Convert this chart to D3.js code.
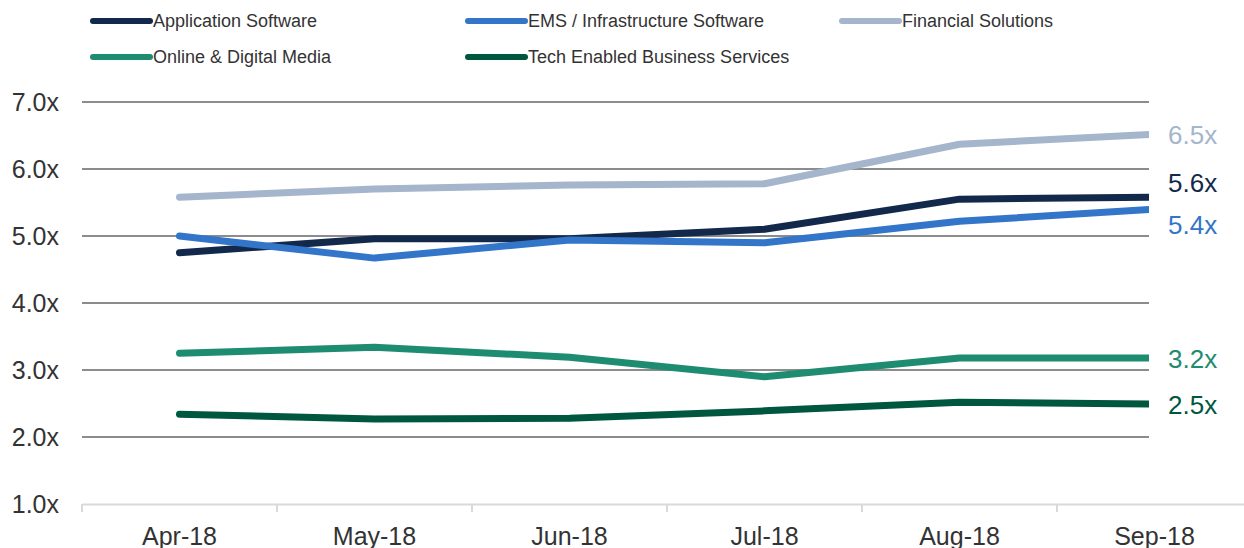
<!DOCTYPE html>
<html lang="en">

<head>
    <meta charset="UTF-8">
    <title>EV / Revenue Multiples</title>
    <style>
        body { margin: 0; background: #fff; }
        text { font-family: "Liberation Sans", Arial, sans-serif; }
    </style>
</head>

<body>
    <svg width="1244" height="548" id="svg"></svg>
    <script src="https://d3js.org/d3.v7.min.js"></script>
    <script>
        // categories / ticks
        const months = ["Apr-18", "May-18", "Jun-18", "Jul-18", "Aug-18", "Sep-18"]
        const yTicks = [1, 2, 3, 4, 5, 6, 7]

        // series names + values
        const seriesNames = ["Application Software", "EMS / Infrastructure Software", "Financial Solutions",
            "Online & Digital Media", "Tech Enabled Business Services"]
        const appSoftware = [4.75, 4.96, 4.96, 5.10, 5.55, 5.58]
        const emsInfra = [5.00, 4.67, 4.94, 4.90, 5.22, 5.40]
        const financial = [5.58, 5.70, 5.76, 5.78, 6.37, 6.52]
        const onlineMedia = [3.25, 3.34, 3.19, 2.90, 3.18, 3.18]
        const techServices = [2.34, 2.27, 2.28, 2.39, 2.52, 2.49]

        const colors = ["#13294b", "#3275c9", "#a5b5cb", "#1e8c70", "#00573f"]
        const allValues = [appSoftware, emsInfra, financial, onlineMedia, techServices]
        const series = seriesNames.map((name, i) => ({ name: name, values: allValues[i], color: colors[i] }))

        const svg = d3.select("svg#svg")
        const padding = { left: 82, top: 102, bottom: 504 }

        const xScale = d3.scaleBand().domain(months).range([padding.left, padding.left + 195 * months.length])
        const yScale = d3.scaleLinear().domain([1, 7]).range([padding.bottom, padding.top])
        const clipRight = 1149

        svg.append("clipPath").attr("id", "plotClip")
            .append("rect").attr("x", 0).attr("y", 0).attr("width", clipRight).attr("height", 548)

        // gridlines
        svg.append("g").attr("class", "grid")
            .selectAll("line").data(yTicks.filter(d => d > 1)).join("line")
            .attr("x1", padding.left).attr("x2", clipRight)
            .attr("y1", d => yScale(d)).attr("y2", d => yScale(d))
            .attr("stroke", "#8c8c8c").attr("stroke-width", 2)

        // y labels
        svg.append("g").attr("class", "yAxis")
            .selectAll("text").data(yTicks).join("text")
            .attr("x", 59).attr("y", d => yScale(d)).attr("dy", "0.35em")
            .attr("text-anchor", "end").attr("font-size", 25).attr("fill", "#333")
            .text(d => d3.format(".1f")(d) + "x")

        // x axis
        const xAxis = d3.axisBottom(xScale).tickSizeOuter(0).tickSizeInner(0).tickPadding(23)
        const gx = svg.append("g").attr("class", "xAxis").attr("transform", `translate(0,${yScale(1)})`).call(xAxis)
        gx.select(".domain").attr("stroke", "#d9d9d9").attr("stroke-width", 2)
        gx.selectAll(".tick text").attr("font-size", 25).attr("fill", "#333").attr("font-family", "Liberation Sans, Arial, sans-serif")
        gx.selectAll(".bandTick").data(months).join("line").attr("class", "bandTick")
            .attr("x1", d => xScale(d)).attr("x2", d => xScale(d))
            .attr("y1", 0).attr("y2", 8).attr("stroke", "#d9d9d9").attr("stroke-width", 2)

        // lines
        const line = d3.line().x((d, i) => xScale(months[i]) + xScale.bandwidth() / 2).y(d => yScale(d))
        svg.append("g").attr("clip-path", "url(#plotClip)")
            .selectAll("path").data(series).join("path")
            .attr("d", d => line(d.values))
            .attr("fill", "none").attr("stroke", d => d.color)
            .attr("stroke-width", 7).attr("stroke-linecap", "round").attr("stroke-linejoin", "round")

        // end labels, nudged apart when too close
        const labels = series.map(s => ({ s: s, y: yScale(s.values[s.values.length - 1]) }))
            .sort((a, b) => a.y - b.y)
        const minGap = 42
        for (let k = 0; k < 5; k++) {
            for (let i = 1; i < labels.length; i++) {
                const gap = labels[i].y - labels[i - 1].y
                if (gap < minGap) {
                    const push = (minGap - gap) / 2
                    labels[i].y += push
                    labels[i - 1].y -= push
                }
            }
        }
        svg.append("g").attr("class", "endLabels")
            .selectAll("text").data(labels).join("text")
            .attr("x", 1168).attr("y", d => d.y + 1).attr("dy", "0.35em")
            .attr("font-size", 26).attr("fill", d => d.s.color)
            .text(d => d3.format(".1f")(d.s.values[d.s.values.length - 1]) + "x")

        // legend
        const legendX = [93, 468, 842]
        const legendY = [21, 57]
        const legend = svg.append("g").attr("class", "legend")
            .selectAll("g").data(series).join("g")
            .attr("transform", (d, i) => `translate(${legendX[i % 3]},${legendY[Math.floor(i / 3)]})`)
        legend.append("line").attr("x1", 0).attr("x2", 57).attr("y1", 0).attr("y2", 0)
            .attr("stroke", d => d.color).attr("stroke-width", 6).attr("stroke-linecap", "round")
        legend.append("text").attr("x", 60).attr("dy", "0.35em")
            .attr("font-size", 18).attr("fill", "#333")
            .text(d => d.name)
    </script>
</body>

</html>
